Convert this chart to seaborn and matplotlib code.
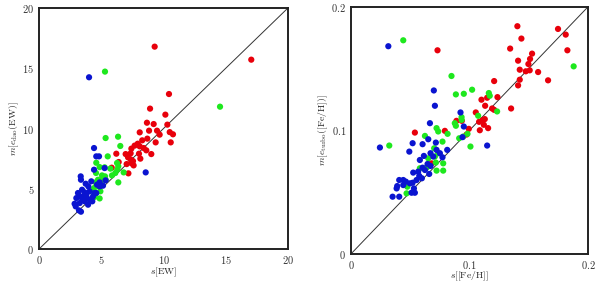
import numpy as np
import pandas as pd
import matplotlib
matplotlib.use("Agg")
import matplotlib.pyplot as plt
import seaborn as sns

# ---- left panel: s[EW] vs m[e_dao(EW)] ----
ew_red_x = [9.29, 17.05, 10.44, 8.92, 10.15, 9.21, 8.67, 10.31, 8.09, 8.84, 9.48, 9.69,
            10.76, 10.5, 9.37, 10.58, 8.7, 8.29, 7.93, 7.68, 8.09, 8.41, 7.42, 9.02,
            7.36, 8.03, 8.62, 6.96, 6.21, 7.15, 7.36, 7.55, 8.14, 6.4, 7.44, 7.04,
            7.6, 5.84, 7.18]
ew_red_y = [16.79, 15.71, 12.86, 11.65, 11.15, 10.37, 10.48, 10.32, 9.68, 9.82, 9.82, 9.49,
            9.52, 9.7, 8.85, 8.85, 9.16, 9.02, 8.74, 8.58, 8.52, 8.38, 8.33, 7.88,
            7.94, 7.91, 8.19, 7.88, 7.91, 7.61, 7.44, 7.3, 7.5, 7.22, 7.11, 7.05,
            6.94, 6.75, 6.28]
ew_green_x = [5.3, 14.54, 5.35, 6.35, 6.53, 5.52, 4.6, 6.27, 6.37, 4.87, 4.58, 5.27,
              5.73, 5.86, 6.13, 6.8, 6.29, 5.06, 5.3, 4.55, 6.37, 4.93, 4.77, 4.42,
              4.93, 4.52, 4.87, 4.47, 5.03, 5.35, 4.2, 4.74]
ew_green_y = [14.72, 11.81, 9.21, 9.32, 8.55, 7.69, 7.16, 7.14, 6.86, 6.8, 6.31, 6.78,
              6.67, 6.11, 6.31, 6.36, 6.58, 6.11, 6.03, 5.53, 5.53, 5.34, 5.2, 5.06,
              4.79, 4.56, 4.2, 4.32, 5.7, 5.75, 4.87, 5.75]
ew_blue_x = [4.02, 8.57, 4.42, 4.42, 4.6, 4.82, 5.27, 3.35, 3.37, 3.75, 4.2, 3.96,
             4.87, 5.14, 5.35, 4.66, 3.46, 3.13, 3.67, 4.07, 3.0, 3.48, 3.86, 4.34,
             2.86, 3.27, 3.67, 3.21, 3.37, 3.94, 4.28, 4.47, 2.95, 3.8, 4.6, 4.87,
             4.12, 3.53, 3.27]
ew_blue_y = [14.25, 6.36, 8.38, 6.58, 7.69, 7.69, 6.72, 6.03, 5.75, 5.42, 5.62, 5.2,
             5.53, 5.26, 5.7, 5.34, 4.92, 4.65, 4.7, 4.79, 4.23, 4.09, 4.23, 4.37,
             3.76, 3.82, 3.96, 3.21, 3.1, 3.68, 3.96, 4.65, 3.54, 4.51, 4.65, 5.2,
             4.09, 4.37, 4.37]

# ---- right panel: s[[Fe/H]] vs m[e_turbo([Fe/H])] ----
fe_red_x = [0.1404, 0.1747, 0.1812, 0.1438, 0.073, 0.1343, 0.1826, 0.1528, 0.1511, 0.141,
            0.1497, 0.1424, 0.1508, 0.1475, 0.1579, 0.1663, 0.1424, 0.1208, 0.141, 0.1236,
            0.1149, 0.1101, 0.1132, 0.1351, 0.1191, 0.1208, 0.1053, 0.1129, 0.111, 0.0935,
            0.089, 0.1081, 0.1121, 0.1157, 0.1087, 0.0994, 0.0539, 0.0792, 0.0975, 0.068]
fe_red_y = [0.1843, 0.1821, 0.1775, 0.1743, 0.1648, 0.1662, 0.1648, 0.1621, 0.1578, 0.1564,
            0.1537, 0.1491, 0.1486, 0.1478, 0.1472, 0.1405, 0.141, 0.1399, 0.1364, 0.1269,
            0.1264, 0.1248, 0.1199, 0.1177, 0.1177, 0.1166, 0.1145, 0.1091, 0.1083, 0.1077,
            0.1077, 0.1069, 0.1045, 0.1018, 0.1001, 0.1012, 0.0982, 0.0996, 0.0966, 0.0733]
fe_green_x = [0.0441, 0.1879, 0.0848, 0.1022, 0.0885, 0.0952, 0.1163, 0.1171, 0.1233, 0.1073,
              0.0933, 0.0933, 0.0876, 0.0885, 0.0722, 0.0736, 0.0815, 0.0624, 0.0983, 0.0947,
              0.0913, 0.0323, 0.1008, 0.0772, 0.0702, 0.0736, 0.0652, 0.0778, 0.0716, 0.0778,
              0.0722, 0.0638, 0.0469, 0.0475, 0.0581, 0.0708]
fe_green_y = [0.1729, 0.1518, 0.144, 0.1329, 0.1291, 0.1296, 0.1302, 0.128, 0.1153, 0.1118,
              0.1107, 0.1085, 0.1058, 0.1037, 0.1018, 0.0991, 0.0972, 0.0955, 0.0972, 0.095,
              0.0936, 0.0877, 0.0869, 0.0909, 0.0855, 0.0815, 0.0774, 0.0733, 0.0739, 0.0674,
              0.0674, 0.0698, 0.049, 0.0544, 0.0693, 0.0788]
fe_blue_x = [0.0315, 0.0699, 0.0708, 0.0666, 0.0924, 0.0952, 0.0941, 0.0244, 0.1149, 0.052,
             0.0492, 0.0604, 0.0652, 0.0716, 0.0722, 0.0671, 0.0615, 0.0694, 0.075, 0.0812,
             0.0772, 0.0581, 0.0646, 0.0671, 0.0604, 0.0624, 0.0525, 0.0567, 0.066, 0.0576,
             0.0553, 0.0598, 0.052, 0.0407, 0.0441, 0.0463, 0.039, 0.0441, 0.0497, 0.0385,
             0.0531, 0.0511, 0.0539, 0.0351, 0.0407]
fe_blue_y = [0.1681, 0.1323, 0.1199, 0.1058, 0.1145, 0.1031, 0.0945, 0.0861, 0.0877, 0.0896,
             0.0828, 0.0888, 0.0928, 0.0901, 0.0842, 0.0815, 0.0793, 0.0788, 0.0815, 0.0842,
             0.0782, 0.076, 0.0728, 0.0712, 0.0698, 0.0679, 0.0658, 0.0666, 0.0647, 0.0631,
             0.0598, 0.0612, 0.0576, 0.0598, 0.0598, 0.0585, 0.0549, 0.0557, 0.0571, 0.053,
             0.053, 0.0495, 0.0495, 0.0463, 0.0463]

palette = {"red": "#e8000b", "green": "#1ee81e", "blue": "#0a14d0"}


def make_frame(rx, ry, gx, gy, bx, by):
    parts = []
    for name, xs, ys in [("red", rx, ry), ("green", gx, gy), ("blue", bx, by)]:
        parts.append(pd.DataFrame({"x": xs, "y": ys, "group": name}))
    return pd.concat(parts, ignore_index=True)


df_ew = make_frame(ew_red_x, ew_red_y, ew_green_x, ew_green_y, ew_blue_x, ew_blue_y)
df_fe = make_frame(fe_red_x, fe_red_y, fe_green_x, fe_green_y, fe_blue_x, fe_blue_y)

sns.set_style("white")
plt.rcParams["font.family"] = ["DejaVu Sans"]
plt.rcParams["mathtext.fontset"] = "cm"

fig = plt.figure(figsize=(6.0, 2.84), dpi=100)
ax1 = fig.add_axes([0.065, 0.123, 0.415, 0.849])
ax2 = fig.add_axes([0.585, 0.106, 0.395, 0.870])

panels = [
    (ax1, df_ew, 20, [0, 5, 10, 15, 20], ["0", "5", "10", "15", "20"],
     r"$s[\mathrm{EW}]$", r"$m[e_{\mathrm{dao}}(\mathrm{EW})]$", 0),
    (ax2, df_fe, 0.2, [0, 0.1, 0.2], ["0", "0.1", "0.2"],
     r"$s[[\mathrm{Fe/H}]]$", r"$m[e_{\mathrm{turbo}}([\mathrm{Fe/H}])]$", -0.5),
]

for ax, df, lim, ticks, labels, xlab, ylab, xpad in panels:
    ax.plot([0, lim], [0, lim], color="#333333", lw=0.7, zorder=1)
    sns.scatterplot(data=df, x="x", y="y", hue="group", palette=palette,
                    s=20, linewidth=0, legend=False, ax=ax, zorder=2)
    ax.set_xlim(0, lim)
    ax.set_ylim(0, lim)
    ax.set_xticks(ticks)
    ax.set_yticks(ticks)
    math_labels = ["$" + t + "$" for t in labels]
    ax.set_xticklabels(math_labels, fontsize=7.5, color="#333333")
    ax.set_yticklabels(math_labels, fontsize=7.5, color="#333333")
    ax.tick_params(direction="inout", length=5, width=0.8, pad=1, color="#444444")
    ax.set_xlabel(xlab, fontsize=7, labelpad=xpad)
    ax.set_ylabel(ylab, fontsize=7, labelpad=1)
    for sp in ax.spines.values():
        sp.set_linewidth(1.4)
        sp.set_color("#222222")

fig.savefig("out.png", dpi=100)
